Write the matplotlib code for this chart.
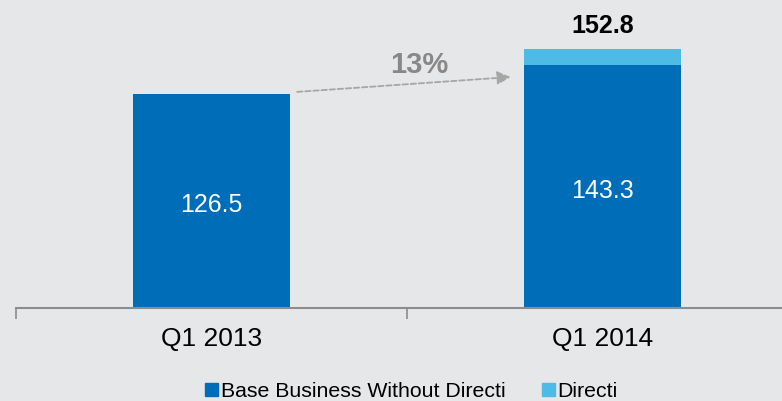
import numpy as np
import matplotlib.pyplot as plt
from matplotlib.patches import Patch

plt.rcParams['font.family'] = ['Liberation Sans', 'DejaVu Sans']

# revenue by quarter, split into base business and Directi
quarters = ['Q1 2013', 'Q1 2014']
base_business = [126.5, 143.3]
directi = [0.0, 9.5]
totals = [126.5, 152.8]
growth_label = '13%'

dark_blue = '#006DB9'
light_blue = '#4DBBE3'
bg = '#E6E7E9'

fig = plt.figure(figsize=(7.82, 4.01), dpi=100, facecolor=bg)
ax = fig.add_axes([16 / 782, 93 / 401, 1.0, 308 / 401])
ax.set_facecolor(bg)

x = np.arange(len(quarters))
width = 0.40
ax.bar(x, base_business, width, color=dark_blue)
ax.bar(x, directi, width, bottom=base_business, color=light_blue)

ax.set_xlim(-0.5, 1.5)
ax.set_ylim(0, 182)

# value inside each base bar, a little below the middle
for xi, v in zip(x, base_business):
    ax.text(xi, v / 2 - 2.5, f'{v:.1f}', ha='center', va='center',
            color='white', fontsize=18)

# total above the stacked bar
ax.text(x[1], totals[1] + 14, f'{totals[1]:.1f}', ha='center', va='center',
        color='black', fontsize=18, fontweight='bold')

# dashed growth arrow between the bars
x0 = x[0] + width / 2 + 0.019
x1 = x[1] - width / 2 - 0.035
y0 = base_business[0] + 1.2
y1 = base_business[0] + 10.0
ax.annotate('', xy=(x1, y1), xytext=(x0, y0),
            arrowprops=dict(arrowstyle='-|>', color='#A6A6A6', lw=1.3,
                            linestyle=(0, (3, 1.5)), mutation_scale=20,
                            shrinkA=0, shrinkB=0))
ax.text((x0 + x1) / 2 + 0.04, y1 + 6.9, growth_label, ha='center', va='center',
        color='#888888', fontsize=21, fontweight='bold')

# axes: only the baseline with ticks between categories
for s in ['top', 'right', 'left']:
    ax.spines[s].set_visible(False)
ax.spines['bottom'].set_color('#8C8C8C')
ax.spines['bottom'].set_linewidth(1.5)
ax.set_yticks([])
ax.set_xticks(x)
ax.set_xticklabels(quarters, fontsize=19)
ax.tick_params(axis='x', which='major', length=0, pad=14)
ax.set_xticks([-0.5, 0.5], minor=True)
ax.tick_params(axis='x', which='minor', length=8, color='#8C8C8C', width=1.2)

handles = [Patch(color=dark_blue, label='Base Business Without Directi'),
           Patch(color=light_blue, label='Directi')]
fig.legend(handles=handles, loc='center', bbox_to_anchor=(411.5 / 782, 9.5 / 401),
           ncol=2, frameon=False, fontsize=15.3,
           handlelength=0.6, handleheight=0.55, handletextpad=0.15,
           columnspacing=1.7, borderpad=0, borderaxespad=0)

fig.savefig('out.png', dpi=100, facecolor=bg)
